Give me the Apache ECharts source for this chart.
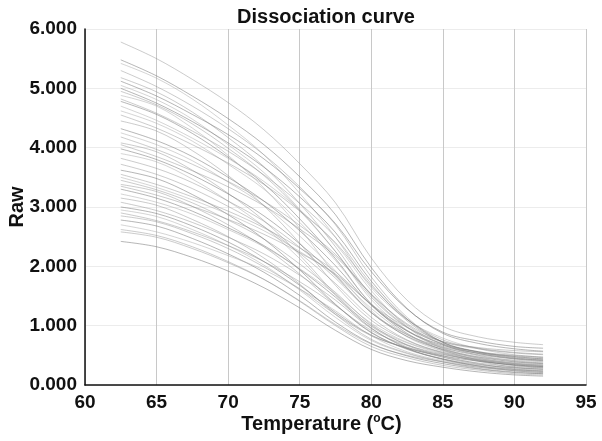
<!DOCTYPE html>
<html>
<head>
<meta charset="utf-8">
<script src="https://cdn.jsdelivr.net/npm/echarts@6/dist/echarts.min.js"></script>
<style>html,body{margin:0;padding:0;background:#fff}#c{width:602px;height:441px}</style>
</head>
<body>
<div id="c"></div>
<script>
// Temperatures (°C) where each curve was read
const temps = [62.5, 65, 67.5, 70, 72.5, 75, 77.5, 80, 82.5, 85, 87.5, 90, 92];
const xTicks = [60, 65, 70, 75, 80, 85, 90, 95];
const yTicks = [0, 1, 2, 3, 4, 5, 6];

// Raw fluorescence per well
const c01 = [5.78,5.50,5.15,4.76,4.30,3.73,3.07,2.14,1.43,0.99,0.81,0.72,0.68];
const c02 = [5.48,5.21,4.87,4.49,4.05,3.51,2.87,1.98,1.29,0.87,0.70,0.61,0.57];
const c03 = [5.42,5.17,4.82,4.38,3.88,3.23,2.49,1.64,1.10,0.79,0.61,0.51,0.47];
const c04 = [5.30,5.03,4.70,4.32,3.88,3.34,2.70,1.82,1.14,0.72,0.55,0.46,0.42];
const c05 = [5.18,4.94,4.60,4.17,3.68,3.06,2.33,1.51,0.98,0.68,0.50,0.41,0.37];
const c06 = [5.12,4.87,4.56,4.22,3.81,3.31,2.72,1.91,1.28,0.89,0.74,0.65,0.62];
const c07 = [5.05,4.81,4.48,4.05,3.58,2.96,2.25,1.44,0.92,0.62,0.45,0.36,0.32];
const c08 = [4.95,4.72,4.40,3.99,3.53,2.94,2.25,1.48,0.97,0.69,0.53,0.44,0.40];
const c09 = [4.82,4.58,4.28,3.94,3.54,3.06,2.49,1.70,1.08,0.71,0.55,0.47,0.44];
const c10 = [4.78,4.56,4.24,3.84,3.39,2.80,2.13,1.36,0.87,0.59,0.42,0.33,0.30];
const c11 = [4.62,4.41,4.11,3.72,3.30,2.74,2.10,1.37,0.91,0.64,0.49,0.40,0.37];
const c12 = [4.55,4.33,4.05,3.74,3.38,2.93,2.40,1.67,1.11,0.76,0.62,0.55,0.52];
const c13 = [4.45,4.28,3.95,3.53,3.02,2.39,1.68,1.09,0.75,0.54,0.40,0.30,0.27];
const c14 = [4.32,4.12,3.85,3.50,3.10,2.60,2.01,1.34,0.91,0.67,0.53,0.45,0.42];
const c15 = [4.25,4.05,3.78,3.42,3.03,2.51,1.92,1.25,0.81,0.57,0.43,0.35,0.32];
const c16 = [4.18,3.97,3.72,3.43,3.10,2.69,2.20,1.53,1.01,0.69,0.56,0.50,0.47];
const c17 = [4.08,3.93,3.62,3.23,2.77,2.19,1.53,0.99,0.68,0.49,0.36,0.27,0.24];
const c18 = [3.98,3.80,3.54,3.22,2.85,2.38,1.84,1.22,0.82,0.60,0.47,0.39,0.36];
const c19 = [3.90,3.76,3.47,3.10,2.67,2.13,1.51,1.00,0.71,0.53,0.41,0.33,0.29];
const c20 = [3.82,3.65,3.41,3.10,2.76,2.32,1.80,1.22,0.85,0.63,0.51,0.44,0.41];
const c21 = [3.72,3.55,3.31,3.01,2.67,2.22,1.71,1.14,0.76,0.55,0.43,0.36,0.33];
const c22 = [3.62,3.48,3.21,2.87,2.46,1.94,1.36,0.88,0.61,0.44,0.32,0.24,0.21];
const c23 = [3.50,3.33,3.12,2.88,2.60,2.25,1.85,1.29,0.85,0.58,0.47,0.42,0.39];
const c24 = [3.45,3.29,3.07,2.78,2.46,2.04,1.56,1.02,0.67,0.47,0.35,0.29,0.26];
const c25 = [3.38,3.26,3.01,2.70,2.33,1.87,1.35,0.92,0.67,0.52,0.41,0.34,0.31];
const c26 = [3.30,3.15,2.93,2.65,2.35,1.95,1.48,0.96,0.62,0.43,0.32,0.26,0.23];
const c27 = [3.22,3.08,2.88,2.62,2.33,1.96,1.53,1.04,0.72,0.55,0.44,0.38,0.36];
const c28 = [3.15,3.03,2.79,2.50,2.14,1.70,1.19,0.77,0.54,0.39,0.28,0.22,0.19];
const c29 = [3.08,2.94,2.74,2.49,2.21,1.85,1.43,0.95,0.64,0.47,0.37,0.31,0.29];
const c30 = [3.00,2.89,2.68,2.41,2.08,1.68,1.22,0.84,0.62,0.49,0.40,0.34,0.31];
const c31 = [2.95,2.84,2.62,2.35,2.02,1.60,1.14,0.75,0.53,0.39,0.30,0.24,0.21];
const c32 = [2.90,2.77,2.58,2.35,2.08,1.74,1.34,0.89,0.60,0.44,0.34,0.29,0.27];
const c33 = [2.85,2.75,2.55,2.30,1.99,1.62,1.19,0.83,0.63,0.51,0.42,0.36,0.34];
const c34 = [2.78,2.68,2.47,2.21,1.90,1.51,1.06,0.70,0.49,0.36,0.27,0.21,0.19];
const c35 = [2.70,2.58,2.40,2.18,1.94,1.62,1.25,0.83,0.56,0.41,0.32,0.27,0.25];
const c36 = [2.62,2.52,2.33,2.08,1.78,1.41,1.00,0.65,0.46,0.33,0.25,0.19,0.17];
const c37 = [2.58,2.49,2.30,2.06,1.78,1.42,1.02,0.69,0.50,0.39,0.30,0.25,0.23];
const c38 = [2.42,2.33,2.15,1.92,1.64,1.30,0.92,0.60,0.41,0.30,0.22,0.17,0.15];
const c39 = [4.70,4.46,4.16,3.82,3.43,2.95,2.38,1.59,0.98,0.61,0.45,0.37,0.34];
const c40 = [4.05,3.85,3.61,3.34,3.02,2.63,2.17,1.53,1.03,0.73,0.61,0.54,0.51];
const c41 = [3.55,3.38,3.17,2.93,2.65,2.31,1.91,1.35,0.92,0.65,0.54,0.49,0.46];
const c42 = [5.00,4.75,4.44,4.08,3.67,3.17,2.57,1.75,1.11,0.72,0.56,0.48,0.44];
const c43 = [4.88,4.70,4.33,3.87,3.32,2.64,1.86,1.22,0.85,0.62,0.46,0.36,0.32];
const c44 = [3.35,3.20,3.01,2.79,2.54,2.23,1.87,1.36,0.97,0.73,0.63,0.58,0.56];

const curves = [c01,c02,c03,c04,c05,c06,c07,c08,c09,c10,c11,c12,c13,c14,c15,c16,c17,c18,c19,c20,c21,c22,
  c23,c24,c25,c26,c27,c28,c29,c30,c31,c32,c33,c34,c35,c36,c37,c38,c39,c40,c41,c42,c43,c44];

const grays = ['rgba(140,140,140,0.45)','rgba(110,110,110,0.5)','rgba(170,170,170,0.5)','rgba(125,125,125,0.4)'];
const FONT = '"Liberation Sans", Arial, Helvetica, sans-serif';

const series = curves.map((vals, i) => ({
  type: 'line',
  name: 'well' + (i + 1),
  data: temps.map((t, j) => [t, vals[j]]),
  smooth: 0.35,
  showSymbol: false,
  silent: true,
  lineStyle: { width: 1, color: grays[i % grays.length] }
}));

const chart = echarts.init(document.getElementById('c'), null, { renderer: 'canvas' });
chart.setOption({
  animation: false,
  backgroundColor: '#fff',
  title: {
    text: 'Dissociation curve',
    left: 321, top: 2, textAlign: 'center',
    textStyle: { fontFamily: FONT, fontWeight: 'bold', fontSize: 20, color: '#111' }
  },
  grid: { left: 85, right: 16, top: 29, bottom: 56, containLabel: false, outerBoundsMode: 'none' },
  xAxis: {
    type: 'value', min: xTicks[0], max: xTicks[xTicks.length - 1], interval: 5,
    name: 'Temperature ({sup|o}C)',
    nameLocation: 'middle', nameGap: 28, nameMoveOverlap: false,
    nameTextStyle: {
      fontFamily: FONT, fontWeight: 'bold', fontSize: 20, color: '#111',
      padding: [0, 28, 0, 0],
      rich: { sup: { fontFamily: FONT, fontWeight: 'bold', fontSize: 12, color: '#111', padding: [0, 0, 10, 0] } }
    },
    axisLine: { show: true, lineStyle: { color: '#111', width: 1.5 } },
    axisTick: { show: false },
    axisLabel: { fontFamily: FONT, fontWeight: 'bold', fontSize: 19, color: '#111', margin: 8 },
    splitLine: { show: true, lineStyle: { color: '#c8c8c8', width: 1 } }
  },
  yAxis: {
    type: 'value', min: yTicks[0], max: yTicks[yTicks.length - 1], interval: 1,
    name: 'Raw', nameLocation: 'middle', nameGap: 58, nameMoveOverlap: false,
    nameTextStyle: { fontFamily: FONT, fontWeight: 'bold', fontSize: 20, color: '#111' },
    axisLine: { show: true, lineStyle: { color: '#111', width: 1.5 } },
    axisTick: { show: false },
    axisLabel: { fontFamily: FONT, fontWeight: 'bold', fontSize: 19, color: '#111', margin: 8,
      formatter: v => v.toFixed(3) },
    splitLine: { show: true, lineStyle: { color: '#ececec', width: 1 } }
  },
  series: series
});
</script>
</body>
</html>
